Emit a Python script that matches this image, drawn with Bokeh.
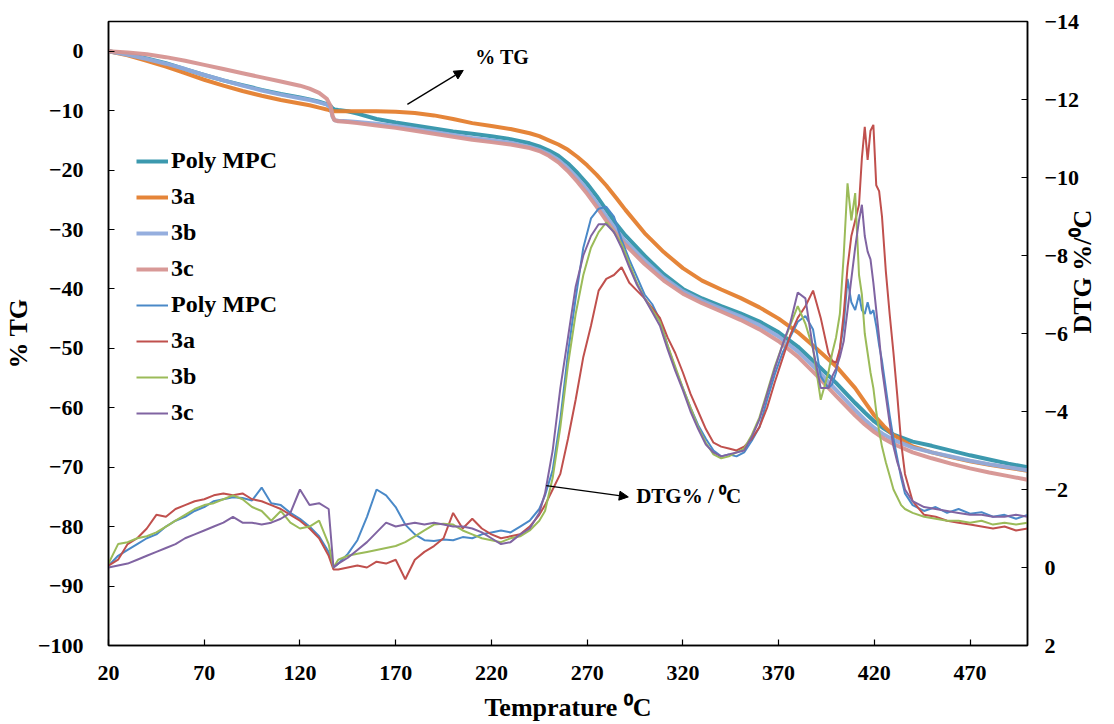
import math
from bokeh.plotting import figure
from bokeh.models import (Range1d, LinearAxis, FixedTicker, Legend, LegendItem,
                          Label, Arrow, NormalHead)
from bokeh.embed import file_html
from bokeh.resources import INLINE

# ---------------- data ----------------
tg_T = [20, 30, 40, 50, 60, 70, 80, 90, 100, 110, 120,
        125, 130, 134, 136, 137, 138, 140, 145, 150,
        160, 170, 180, 190, 200, 210, 220, 230, 240,
        245, 250, 255, 260, 265, 270, 275, 280, 285, 290,
        300, 310, 320, 330, 340, 350, 360, 370, 380, 390, 400, 410,
        415, 420, 425, 430,
        440, 450, 460, 470, 480, 490, 500]

tg_poly = [0, -0.5, -1.2, -2.0, -3.0, -4.0, -4.9, -5.7, -6.5, -7.2, -7.8,
           -8.1, -8.5, -8.9, -9.2, -9.6, -9.8, -9.9, -10.1, -10.5,
           -11.4, -12.0, -12.5, -13.0, -13.5, -13.9, -14.3, -14.8, -15.5,
           -16.0, -16.7, -17.6, -18.9, -20.5, -22.3, -24.4, -26.7, -29.0, -31.0,
           -34.4, -37.5, -40.0, -41.6, -42.9, -44.1, -45.5, -47.3, -49.7, -52.7, -55.8, -59.2,
           -60.8, -62.3, -63.5, -64.5,
           -65.7, -66.4, -67.2, -68.0, -68.7, -69.4, -70.0]

tg_3a = [0, -0.7, -1.6, -2.6, -3.7, -4.8, -5.8, -6.7, -7.5, -8.2, -8.8,
         -9.1, -9.5, -9.8, -10.0, -10.05, -10.1, -10.1, -10.1, -10.1,
         -10.1, -10.2, -10.4, -10.8, -11.4, -12.1, -12.6, -13.1, -13.8,
         -14.3, -15.0, -15.7, -16.6, -17.8, -19.2, -20.8, -22.6, -24.6, -26.7,
         -30.6, -33.8, -36.5, -38.6, -40.1, -41.5, -43.1, -45.0, -47.3, -50.1, -53.0, -56.7,
         -59.0, -61.3, -63.1, -64.6,
         -66.5, -67.5, -68.3, -69.0, -69.6, -70.1, -70.6]

tg_3b = [0, -0.6, -1.3, -2.1, -3.0, -4.0, -4.9, -5.8, -6.6, -7.3, -7.9,
         -8.2, -8.6, -9.0, -9.5, -11.0, -11.6, -11.7, -11.8, -11.9,
         -12.2, -12.6, -13.1, -13.6, -14.1, -14.6, -15.0, -15.4, -16.1,
         -16.6, -17.3, -18.3, -19.7, -21.4, -23.3, -25.5, -27.8, -30.0, -32.0,
         -35.2, -38.1, -40.4, -42.0, -43.3, -44.6, -46.1, -48.0, -50.5, -53.6, -57.0, -60.4,
         -62.0, -63.4, -64.5, -65.4,
         -66.7, -67.5, -68.2, -68.9, -69.5, -70.0, -70.5]

tg_3c = [0, -0.2, -0.5, -1.0, -1.6, -2.3, -3.0, -3.7, -4.4, -5.1, -5.8,
         -6.3, -7.0, -8.0, -9.2, -10.8, -11.6, -11.8, -11.9, -12.1,
         -12.5, -12.9, -13.4, -13.9, -14.4, -14.9, -15.3, -15.7, -16.3,
         -16.8, -17.6, -18.7, -20.2, -22.0, -24.0, -26.2, -28.5, -30.7, -32.6,
         -35.8, -38.6, -40.8, -42.4, -43.8, -45.2, -46.8, -48.8, -51.4, -54.6, -58.0, -61.3,
         -62.8, -64.1, -65.2, -66.1,
         -67.5, -68.5, -69.4, -70.2, -70.9, -71.5, -72.1]

dtg_T = [20, 25, 30, 35, 40, 45, 50, 55, 60, 65, 70, 75, 80, 85, 90, 95, 100, 105, 110, 115, 120, 125, 130, 135,
         137.5,
         140, 145, 150, 155, 160, 165, 170, 175, 180, 185, 190, 195, 200, 205, 210, 215, 220, 225, 230, 235, 240, 245,
         248, 252, 256, 260, 264, 268, 272, 276, 280, 284, 288, 292, 296, 300, 304, 308, 312, 316, 320, 324,
         328, 332, 336, 340, 344, 348, 352, 356, 360, 364, 368, 372, 376, 380, 384, 388, 392, 396,
         398, 400, 402, 404, 406, 408, 410, 412, 413.5, 415, 416.5, 418, 419.5, 421, 422.5, 424, 426, 428, 430, 432, 434, 436,
         440, 446, 452, 458, 464, 470, 476, 482, 488, 494, 500]

dtg_poly = [-0.05, -0.3, -0.45, -0.6, -0.75, -0.85, -1.05, -1.2, -1.3, -1.45, -1.55, -1.7, -1.75, -1.8, -1.78, -1.72, -2.05, -1.65, -1.6, -1.4, -1.25, -1.05, -0.8, -0.4,
            0.0,
            -0.1, -0.35, -0.7, -1.3, -2.0, -1.85, -1.55, -1.1, -0.85, -0.7, -0.68, -0.72, -0.7, -0.78, -0.75, -0.85, -0.9, -0.95, -0.9, -1.05, -1.2, -1.5,
            -1.85, -2.5, -3.8, -5.5, -6.9, -8.2, -8.95, -9.2, -9.25, -9.0, -8.4, -7.9, -7.45, -7.0, -6.75, -6.35, -5.7, -5.1, -4.6, -4.1,
            -3.65, -3.3, -3.0, -2.85, -2.9, -2.85, -2.95, -3.25, -3.6, -4.3, -4.95, -5.5, -5.9, -6.3, -6.45, -6.1, -4.9, -4.6,
            -4.7, -5.0, -5.6, -6.2, -7.4, -6.8, -6.6, -7.0, -6.6, -6.5, -6.8, -6.5, -6.6, -6.2, -5.7, -5.3, -4.6, -3.9, -3.3, -2.8, -2.3, -1.9,
            -1.6, -1.45, -1.55, -1.4, -1.5, -1.38, -1.42, -1.3, -1.35, -1.25, -1.35]

dtg_3a = [-0.05, -0.2, -0.6, -0.75, -1.0, -1.35, -1.3, -1.5, -1.6, -1.7, -1.75, -1.85, -1.9, -1.85, -1.9, -1.75, -1.7, -1.6, -1.5, -1.35, -1.2, -1.0, -0.75, -0.3,
          0.05,
          0.05, 0.0, -0.05, 0.0, -0.15, -0.1, -0.2, 0.3, -0.2, -0.4, -0.55, -0.75, -1.4, -1.0, -1.25, -1.0, -0.85, -0.75, -0.8, -0.85, -1.05, -1.35,
          -1.6, -2.0, -2.4, -3.3, -4.3, -5.4, -6.2, -7.1, -7.4, -7.5, -7.7, -7.3, -7.1, -6.9, -6.65, -6.4, -5.9, -5.5, -5.0, -4.45,
          -4.0, -3.55, -3.2, -3.1, -3.05, -3.0, -3.1, -3.3, -3.6, -4.1, -4.75, -5.35, -5.95, -6.4, -6.7, -7.1, -6.4, -5.5,
          -5.3, -5.25, -5.6, -6.5, -7.7, -8.5, -8.9, -9.3, -10.5, -11.3, -10.45, -11.2, -11.35, -9.8, -9.65, -9.0, -7.6, -6.5, -5.5, -4.4, -3.2, -2.4,
          -1.7, -1.35, -1.3, -1.2, -1.15, -1.1, -1.05, -1.0, -1.05, -0.95, -1.0]

dtg_3b = [-0.1, -0.6, -0.65, -0.75, -0.8, -0.9, -1.05, -1.2, -1.35, -1.5, -1.6, -1.65, -1.75, -1.85, -1.75, -1.55, -1.45, -1.2, -1.45, -1.15, -1.0, -1.05, -1.2, -0.6,
          0.0,
          -0.2, -0.3, -0.35, -0.4, -0.45, -0.5, -0.55, -0.65, -0.8, -0.95, -1.1, -1.12, -1.1, -0.95, -0.85, -0.75, -0.7, -0.65, -0.75, -0.8, -0.95, -1.2,
          -1.45, -2.3, -3.6, -5.2, -6.5, -7.5, -8.2, -8.6, -8.85, -8.6, -8.3, -7.8, -7.3, -6.9, -6.6, -6.3, -5.7, -5.15, -4.6, -4.1,
          -3.6, -3.2, -2.9, -2.8, -2.85, -2.95, -3.05, -3.4, -3.85, -4.5, -5.15, -5.7, -6.2, -6.7, -6.25, -5.6, -4.3, -5.0,
          -5.5, -5.9, -6.5, -8.0, -9.85, -8.9, -9.6, -7.5, -7.0, -6.0, -5.5, -5.0, -4.6, -4.0, -3.5, -3.1, -2.7, -2.35, -2.0, -1.8, -1.6, -1.5,
          -1.4, -1.3, -1.25, -1.2, -1.2, -1.15, -1.2, -1.1, -1.15, -1.1, -1.15]

dtg_3c = [0.0, -0.05, -0.1, -0.2, -0.3, -0.4, -0.5, -0.6, -0.75, -0.85, -0.95, -1.05, -1.15, -1.3, -1.15, -1.15, -1.1, -1.15, -1.25, -1.4, -2.0, -1.6, -1.65, -1.5,
          0.0,
          -0.1, -0.25, -0.45, -0.65, -0.9, -1.15, -1.05, -1.1, -1.15, -1.1, -1.15, -1.1, -1.05, -1.05, -1.0, -0.9, -0.75, -0.6, -0.65, -0.85, -1.0, -1.4,
          -1.9, -3.0, -4.6, -5.9, -7.2, -8.0, -8.5, -8.8, -8.8, -8.6, -8.2, -7.7, -7.25, -6.9, -6.55, -6.2, -5.6, -5.05, -4.55, -4.0,
          -3.55, -3.15, -2.95, -2.85, -2.9, -2.95, -3.0, -3.35, -3.8, -4.45, -5.1, -5.7, -6.25, -7.05, -6.9, -5.6, -4.6, -4.6,
          -4.9, -5.1, -5.4, -5.8, -6.6, -7.4, -8.2, -8.9, -9.3, -8.5, -8.1, -7.9, -7.3, -6.6, -5.9, -5.1, -4.4, -3.7, -3.1, -2.7, -2.4, -2.0,
          -1.7, -1.55, -1.5, -1.45, -1.4, -1.35, -1.35, -1.3, -1.3, -1.35, -1.3]

series_names = ["Poly MPC", "3a", "3b", "3c"]
x_ticks = [20, 70, 120, 170, 220, 270, 320, 370, 420, 470]
tg_ticks = [-100, -90, -80, -70, -60, -50, -40, -30, -20, -10, 0]
dtg_ticks = [2, 0, -2, -4, -6, -8, -10, -12, -14]

# ---------------- styling ----------------
FONT = "Liberation Serif"
tg_colors = ["#3193AA", "#E47E2E", "#8FAADC", "#D69391"]
dtg_colors = ["#4A89C8", "#C0504D", "#9BBB59", "#8064A2"]

p = figure(width=1114, height=724, output_backend="svg", toolbar_location=None,
           x_range=Range1d(20, 500), y_range=Range1d(-100, 5),
           min_border_left=108, min_border_right=87, min_border_top=21, min_border_bottom=78)
p.extra_y_ranges = {"dtg": Range1d(start=2, end=-14)}
p.grid.visible = False
p.outline_line_color = "black"
p.outline_line_width = 1.5
p.background_fill_color = "white"
p.border_fill_color = "white"

def style_axis(ax, standoff):
    ax.axis_line_color = "black"
    ax.axis_line_width = 1.5
    ax.major_tick_in = 6
    ax.major_tick_out = 0
    ax.major_tick_line_width = 1.2
    ax.minor_tick_line_color = None
    ax.major_label_text_font = FONT
    ax.major_label_text_font_style = "bold"
    ax.major_label_text_font_size = "22px"
    ax.major_label_text_color = "black"
    ax.major_label_standoff = standoff
    ax.axis_label_text_font = FONT
    ax.axis_label_text_font_style = "bold"
    ax.axis_label_text_font_size = "26px"
    ax.axis_label_text_color = "black"

xa = p.xaxis[0]
xa.ticker = FixedTicker(ticks=x_ticks)
xa.axis_label = "Temprature \u2070C"
style_axis(xa, 20)
xa.axis_label_standoff = 10

ya = p.yaxis[0]
ya.ticker = FixedTicker(ticks=tg_ticks)
ya.axis_label = "% TG"
style_axis(ya, 25)
ya.axis_label_standoff = 2

ra = LinearAxis(y_range_name="dtg", ticker=FixedTicker(ticks=dtg_ticks),
                axis_label="DTG %/\u2070C")
style_axis(ra, 17)
ra.axis_label_standoff = 0
try:
    ra.axis_label_orientation = math.pi / 2
except Exception:
    pass
p.add_layout(ra, "right")

tg_data = [tg_poly, tg_3a, tg_3b, tg_3c]
dtg_data = [dtg_poly, dtg_3a, dtg_3b, dtg_3c]

tg_r = []
for name, ys, c in zip(series_names, tg_data, tg_colors):
    r = p.line(tg_T, ys, line_color=c, line_width=4, line_alpha=0.95)
    tg_r.append((name, r))
dtg_r = []
for name, ys, c in zip(series_names, dtg_data, dtg_colors):
    r = p.line(dtg_T, ys, line_color=c, line_width=2, y_range_name="dtg")
    dtg_r.append((name, r))

items = [LegendItem(label=name, renderers=[r]) for name, r in tg_r + dtg_r]

legend = Legend(items=items, location=(28, 219), orientation="vertical",
                label_text_font=FONT, label_text_font_style="bold",
                label_text_font_size="24px", label_text_color="black",
                glyph_width=32, glyph_height=20, label_height=20,
                label_standoff=3, spacing=9, padding=0, margin=0,
                border_line_color=None, background_fill_alpha=0)
p.add_layout(legend, "center")

# annotations
p.add_layout(Label(x=211.6, y=-1.05, text="% TG", text_font=FONT, text_font_style="bold",
                   text_font_size="20px", text_baseline="middle", text_color="black"))
p.add_layout(Arrow(end=NormalHead(size=9, fill_color="black", line_color="black"),
                   x_start=176.1, y_start=-8.94, x_end=205.3, y_end=-3.23,
                   line_color="black", line_width=1.3))
p.add_layout(Label(x=295.6, y=-74.8, text="DTG% / \u2070C", text_font=FONT, text_font_style="bold",
                   text_font_size="21px", text_baseline="middle", text_color="black"))
p.add_layout(Arrow(end=NormalHead(size=9, fill_color="black", line_color="black"),
                   x_start=248.6, y_start=-73.1, x_end=291.5, y_end=-75.0,
                   line_color="black", line_width=1.3))

open("out.html", "w").write(file_html(p, INLINE))
